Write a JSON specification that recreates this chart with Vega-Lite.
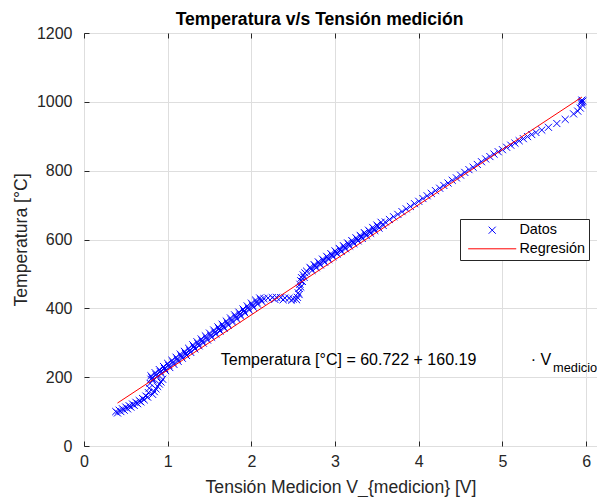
{
 "$schema": "https://vega.github.io/schema/vega-lite/v6.json",
 "width": 513, "height": 413,
 "autosize": "none",
 "padding": {"left": 84, "top": 33, "right": 0, "bottom": 51},
 "background": "white",
 "title": {"text": "Temperatura v/s Tensión medición", "fontSize": 17.6, "fontWeight": "bold", "font": "Liberation Sans", "color": "#000000", "dx": -21, "offset": -4},
 "config": {
  "view": {"stroke": "#262626", "strokeWidth": 1},
  "font": "Liberation Sans",
  "axis": {"gridColor": "#dedede", "gridWidth": 1, "tickColor": "#262626", "tickWidth": 1, "labelFontSize": 16, "labelColor": "#262626", "labelFont": "Liberation Sans", "titleFont": "Liberation Sans", "titleFontSize": 17.6, "titleFontWeight": "normal", "titleColor": "#262626", "domain": false, "labelFlush": false}
 },
 "datasets": {
  "pts": [
   {"v":0.38,"t":100},{"v":0.42,"t":104},{"v":0.46,"t":108},{"v":0.50,"t":113},{"v":0.54,"t":117},{"v":0.58,"t":122},{"v":0.62,"t":127},{"v":0.66,"t":132},{"v":0.70,"t":138},{"v":0.74,"t":145},
   {"v":0.40,"t":96},{"v":0.44,"t":100},{"v":0.48,"t":104},{"v":0.52,"t":108},{"v":0.56,"t":113},{"v":0.60,"t":118},{"v":0.64,"t":123},{"v":0.68,"t":128},{"v":0.72,"t":134},{"v":0.76,"t":142},
   {"v":0.77,"t":155},{"v":0.78,"t":168},{"v":0.79,"t":182},{"v":0.80,"t":194},
   {"v":0.82,"t":150},{"v":0.84,"t":158},{"v":0.86,"t":166},{"v":0.88,"t":173},{"v":0.90,"t":180},{"v":0.92,"t":186},{"v":0.94,"t":194},
   {"v":0.80,"t":204},{"v":0.85,"t":213},{"v":0.90,"t":222},{"v":0.95,"t":231},{"v":1.00,"t":240},{"v":1.05,"t":249},{"v":1.10,"t":258},{"v":1.15,"t":267},{"v":1.20,"t":275},{"v":1.25,"t":284},{"v":1.30,"t":294},{"v":1.35,"t":303},{"v":1.40,"t":311},{"v":1.45,"t":320},{"v":1.50,"t":328},{"v":1.55,"t":337},{"v":1.60,"t":346},{"v":1.65,"t":354},{"v":1.70,"t":363},{"v":1.75,"t":372},{"v":1.80,"t":381},{"v":1.85,"t":389},{"v":1.90,"t":398},{"v":1.95,"t":407},{"v":2.00,"t":415},{"v":2.05,"t":424},{"v":2.10,"t":430},
   {"v":0.8125,"t":198},{"v":0.8625,"t":207},{"v":0.9125,"t":216},{"v":0.9625,"t":225},{"v":1.0125,"t":234},{"v":1.0625,"t":243},{"v":1.1125,"t":252},{"v":1.1625,"t":261},{"v":1.2125,"t":269},{"v":1.2625,"t":278},{"v":1.3125,"t":288},{"v":1.3625,"t":297},{"v":1.4125,"t":305},{"v":1.4625,"t":314},{"v":1.5125,"t":322},{"v":1.5625,"t":331},{"v":1.6125,"t":340},{"v":1.6625,"t":348},{"v":1.7125,"t":357},{"v":1.7625,"t":366},{"v":1.8125,"t":375},{"v":1.8625,"t":383},{"v":1.9125,"t":392},{"v":1.9625,"t":401},{"v":2.0125,"t":409},{"v":2.0625,"t":418},{"v":2.1125,"t":425},
   {"v":0.825,"t":192},{"v":0.875,"t":201},{"v":0.925,"t":210},{"v":0.975,"t":219},{"v":1.025,"t":228},{"v":1.075,"t":237},{"v":1.125,"t":246},{"v":1.175,"t":255},{"v":1.225,"t":263},{"v":1.275,"t":272},{"v":1.325,"t":282},{"v":1.375,"t":291},{"v":1.425,"t":299},{"v":1.475,"t":308},{"v":1.525,"t":316},{"v":1.575,"t":325},{"v":1.625,"t":334},{"v":1.675,"t":342},{"v":1.725,"t":351},{"v":1.775,"t":360},{"v":1.825,"t":369},{"v":1.875,"t":377},{"v":1.925,"t":386},{"v":1.975,"t":395},{"v":2.025,"t":403},{"v":2.075,"t":412},{"v":2.125,"t":420},
   {"v":2.15,"t":428},{"v":2.20,"t":430},{"v":2.25,"t":431},{"v":2.28,"t":426},{"v":2.30,"t":432},{"v":2.35,"t":431},{"v":2.38,"t":425},{"v":2.40,"t":430},{"v":2.45,"t":429},{"v":2.48,"t":424},{"v":2.50,"t":427},{"v":2.54,"t":425},
   {"v":2.55,"t":432},{"v":2.56,"t":445},{"v":2.57,"t":458},{"v":2.58,"t":470},{"v":2.59,"t":480},{"v":2.60,"t":489},{"v":2.62,"t":497},{"v":2.64,"t":503},{"v":2.66,"t":508},{"v":2.57,"t":440},{"v":2.59,"t":462},{"v":2.61,"t":478},{"v":2.63,"t":490},
   {"v":2.70,"t":519},{"v":2.75,"t":527},{"v":2.80,"t":535},{"v":2.85,"t":543},{"v":2.90,"t":551},{"v":2.95,"t":559},{"v":3.00,"t":567},{"v":3.05,"t":574},{"v":3.10,"t":582},{"v":3.15,"t":590},{"v":3.20,"t":597},{"v":3.25,"t":605},{"v":3.30,"t":612},{"v":3.35,"t":620},{"v":3.40,"t":627},{"v":3.45,"t":635},{"v":3.50,"t":642},{"v":3.55,"t":650},
   {"v":2.7125,"t":515},{"v":2.7625,"t":523},{"v":2.8125,"t":531},{"v":2.8625,"t":539},{"v":2.9125,"t":547},{"v":2.9625,"t":555},{"v":3.0125,"t":563},{"v":3.0625,"t":570},{"v":3.1125,"t":578},{"v":3.1625,"t":586},{"v":3.2125,"t":593},{"v":3.2625,"t":601},{"v":3.3125,"t":608},{"v":3.3625,"t":616},{"v":3.4125,"t":623},{"v":3.4625,"t":631},{"v":3.5125,"t":638},
   {"v":2.725,"t":510},{"v":2.775,"t":518},{"v":2.825,"t":526},{"v":2.875,"t":534},{"v":2.925,"t":542},{"v":2.975,"t":550},{"v":3.025,"t":558},{"v":3.075,"t":565},{"v":3.125,"t":573},{"v":3.175,"t":581},{"v":3.225,"t":588},{"v":3.275,"t":596},{"v":3.325,"t":603},{"v":3.375,"t":611},{"v":3.425,"t":618},{"v":3.475,"t":626},{"v":3.525,"t":633},{"v":3.575,"t":641},
   {"v":3.60,"t":651},{"v":3.65,"t":658},{"v":3.70,"t":666},{"v":3.75,"t":673},{"v":3.80,"t":681},{"v":3.85,"t":689},{"v":3.90,"t":696},{"v":3.95,"t":704},{"v":4.00,"t":711},
   {"v":4.05,"t":719},{"v":4.10,"t":727},{"v":4.15,"t":734},{"v":4.20,"t":742},{"v":4.25,"t":749},{"v":4.30,"t":757},{"v":4.35,"t":764},{"v":4.40,"t":772},{"v":4.45,"t":779},{"v":4.50,"t":787},{"v":4.55,"t":795},{"v":4.60,"t":803},{"v":4.65,"t":810},{"v":4.70,"t":818},{"v":4.75,"t":826},{"v":4.80,"t":834},{"v":4.85,"t":841},{"v":4.90,"t":848},{"v":4.95,"t":855},{"v":5.00,"t":861},
   {"v":5.05,"t":868},{"v":5.10,"t":874},{"v":5.15,"t":880},{"v":5.20,"t":887},{"v":5.25,"t":893},{"v":5.30,"t":899},{"v":5.35,"t":905},{"v":5.40,"t":911},{"v":5.47,"t":918},{"v":5.55,"t":926},{"v":5.65,"t":937},{"v":5.75,"t":949},{"v":5.85,"t":965},{"v":5.90,"t":973},{"v":5.93,"t":982},{"v":5.95,"t":992},{"v":5.95,"t":1000},{"v":5.96,"t":1002},{"v":5.94,"t":998},{"v":5.95,"t":1005}
  ],
  "reg": [{"v":0.4,"t":124.8},{"v":5.95,"t":1013.85}],
  "ann": [{"v":1.635,"t":234,"label":"Temperatura [°C] = 60.722 + 160.19"},{"v":5.337,"t":234,"label":"· V"}],
  "sub": [{"v":5.605,"t":215,"label":"medicion"}]
 },
 "layer": [
  {
   "data": {"name": "pts"},
   "mark": {"type": "point", "filled": false, "strokeWidth": 1, "size": 50, "opacity": 1},
   "encoding": {
    "x": {"field": "v", "type": "quantitative", "scale": {"domain": [0, 6.13], "nice": false, "zero": false}, "axis": {"orient": "bottom", "values": [0,1,2,3,4,5,6], "title": "Tensión Medicion V_{medicion} [V]", "ticks": false, "labelPadding": 7, "titlePadding": 9, "grid": true}},
    "y": {"field": "t", "type": "quantitative", "scale": {"domain": [0, 1200], "nice": false}, "axis": {"orient": "left", "values": [0,200,400,600,800,1000,1200], "format": "d", "title": "Temperatura [°C]", "ticks": false, "labelPadding": 12, "titlePadding": 6, "grid": true}},
    "color": {"datum": "Datos", "type": "nominal", "scale": {"domain": ["Datos", "Regresión"], "range": ["#0000ff", "#ff0000"]},
     "legend": {"title": null, "orient": "none", "legendX": 376, "legendY": 186, "strokeColor": "#262626", "fillColor": "#ffffff", "padding": 4, "labelFontSize": 14.4, "labelColor": "#000000", "labelFont": "Liberation Sans", "symbolOffset": 21, "labelOffset": 20, "rowPadding": 3.6, "symbolStrokeWidth": 1, "symbolSize": 50}},
    "shape": {"datum": "Datos", "type": "nominal", "scale": {"domain": ["Datos", "Regresión"], "range": ["M-1,-1L1,1M1,-1L-1,1", "M-6.8,0L6.8,0"]}}
   }
  },
  {
   "data": {"name": "reg"},
   "mark": {"type": "line", "strokeWidth": 1},
   "encoding": {
    "x": {"field": "v", "type": "quantitative", "axis": {"orient": "top", "offset": -5, "tickSize": 5, "labels": false, "grid": false, "title": null, "values": [0,1,2,3,4,5,6]}},
    "y": {"field": "t", "type": "quantitative", "axis": {"orient": "left", "offset": -5, "tickSize": 5, "labels": false, "grid": false, "title": null, "values": [0,200,400,600,800,1000,1200]}},
    "color": {"datum": "Regresión", "type": "nominal"}
   }
  },
  {
   "data": {"name": "ann"},
   "mark": {"type": "text", "align": "left", "baseline": "alphabetic", "fontSize": 16, "font": "Liberation Sans", "color": "#000000"},
   "encoding": {
    "x": {"field": "v", "type": "quantitative", "axis": {"orient": "bottom", "offset": -5, "tickSize": 5, "labels": false, "grid": false, "title": null, "values": [0,1,2,3,4,5,6]}},
    "y": {"field": "t", "type": "quantitative", "axis": null},
    "text": {"field": "label"}
   }
  },
  {
   "data": {"name": "sub"},
   "mark": {"type": "text", "align": "left", "baseline": "alphabetic", "fontSize": 12.8, "font": "Liberation Sans", "color": "#000000"},
   "encoding": {
    "x": {"field": "v", "type": "quantitative", "axis": null},
    "y": {"field": "t", "type": "quantitative", "axis": null},
    "text": {"field": "label"}
   }
  }
 ],
 "resolve": {"axis": {"x": "independent", "y": "independent"}}
}
